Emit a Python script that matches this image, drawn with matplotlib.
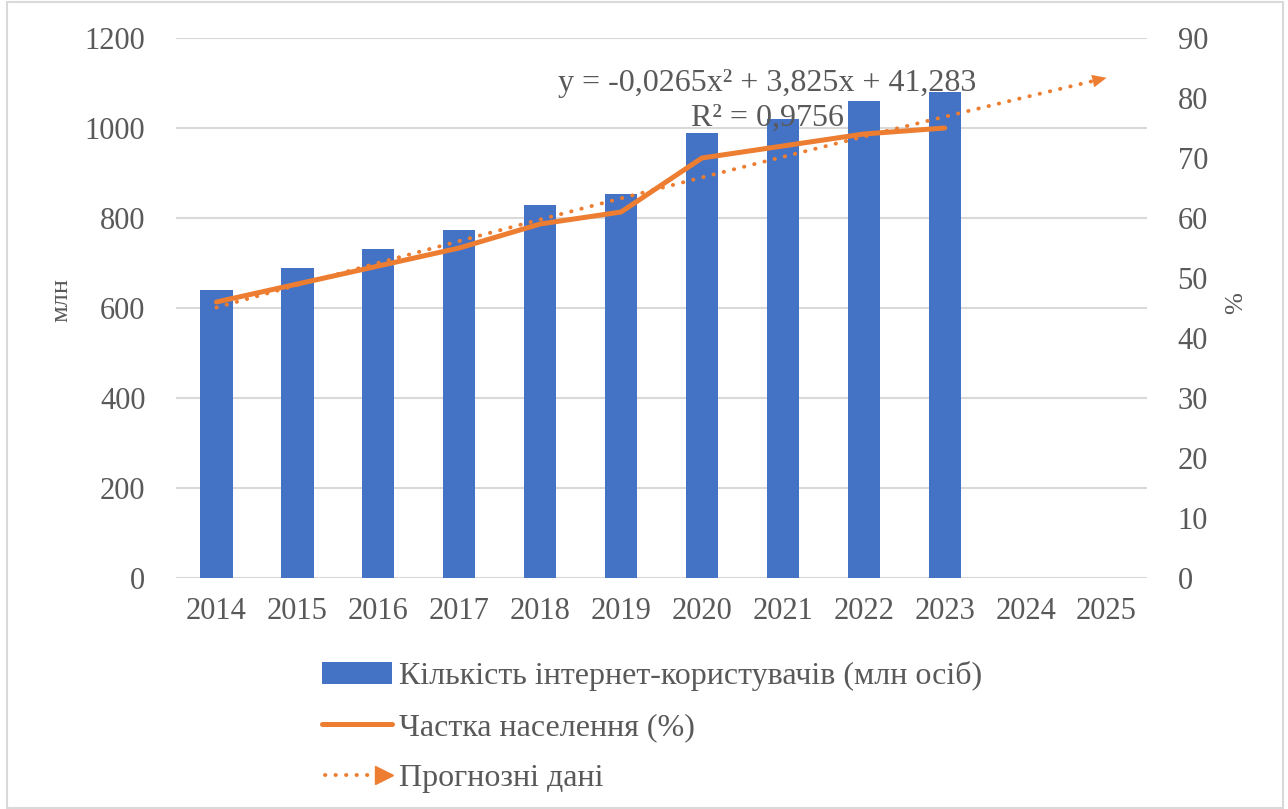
import matplotlib
matplotlib.use("Agg")
import matplotlib.pyplot as plt
import numpy as np
from matplotlib.lines import Line2D
from matplotlib.patches import Rectangle
from matplotlib.legend_handler import HandlerBase

plt.rcParams['font.family'] = ['Liberation Serif', 'DejaVu Serif']

# data
years = ['2014', '2015', '2016', '2017', '2018', '2019', '2020', '2021',
         '2022', '2023', '2024', '2025']
users = [641, 688, 732, 773, 830, 854, 990, 1021, 1061, 1080]
share = [46, 49, 52, 55, 59, 61, 70, 72, 74, 75]
# coefficients of the trendline shown on the chart (a, b, c for x = 1..12)
trend_coef = [-0.0265, 3.825, 41.283]
eq_text = 'y = -0,0265x² + 3,825x + 41,283'
r2_text = 'R² = 0,9756'

BLUE = '#4472C4'
ORANGE = '#ED7D31'
GREY = '#595959'
GRID = '#D9D9D9'
DOTS = (0, (0.1, 2.6))


class ArrowHandler(HandlerBase):
    def create_artists(self, legend, orig_handle, xdescent, ydescent,
                       width, height, fontsize, trans):
        y = height / 2 - ydescent
        x0 = -xdescent
        x1 = width - xdescent
        dots = Line2D([x0 + 2, x1 - 10], [y, y], color=ORANGE, lw=2.8,
                      linestyle=DOTS, dash_capstyle='round',
                      transform=trans)
        head = Line2D([x1 - 6], [y], marker='>', markersize=13, color=ORANGE,
                      transform=trans)
        return [dots, head]


fig = plt.figure(figsize=(12.88, 8.09), dpi=100)
ax = fig.add_axes([176 / 1288, 1 - 578 / 809, 971 / 1288, 540 / 809])
ax2 = ax.twinx()

x = np.arange(len(years))
xb = x[:len(users)]
bars = ax.bar(xb, users, width=0.4, color=BLUE, zorder=2,
              label='Кількість інтернет-користувачів (млн осіб)')

ax.set_xlim(-0.5, len(years) - 0.5)
ax.set_ylim(0, 1200)
ax.set_yticks(np.arange(0, 1201, 200))
ax.set_xticks(x)
ax.set_xticklabels(years)
ax.grid(axis='y', color=GRID, lw=1.5, zorder=0)
ax.set_axisbelow(True)

ax2.set_ylim(0, 90)
ax2.set_yticks(np.arange(0, 91, 10))

line, = ax2.plot(xb, share, color=ORANGE, lw=3.6, solid_capstyle='round',
                 zorder=3, label='Частка населення (%)')

xt = x + 1
trend = np.polyval(trend_coef, xt)
ax2.plot(x, trend, color=ORANGE, lw=2.8, linestyle=DOTS,
         dash_capstyle='round', zorder=4)
ax2.annotate('', xy=(x[-1], trend[-1]),
             xytext=(x[-1] - 0.15, trend[-1] - 0.15 * (trend[-1] - trend[-2])),
             arrowprops=dict(arrowstyle='-|>,head_length=1.0,head_width=0.45',
                             color=ORANGE, lw=0.1, shrinkA=0, shrinkB=0),
             zorder=4)

for a in (ax, ax2):
    for s in a.spines.values():
        s.set_visible(False)
    a.tick_params(length=0, colors=GREY, labelsize=22)
ax.tick_params(axis='y', pad=22)
ax.tick_params(axis='x', pad=14)
ax2.tick_params(axis='y', pad=22)

ax.set_ylabel('млн', fontsize=19, color=GREY)
ax.yaxis.set_label_coords(-0.107, 0.515)
ax2.set_ylabel('%', fontsize=19, color=GREY)
ax2.yaxis.set_label_coords(1.080, 0.51)

ax.text(6.81, 1098, eq_text, ha='center', va='center', fontsize=23,
        color=GREY, zorder=5)
ax.text(6.81, 1022, r2_text, ha='center', va='center', fontsize=23,
        color=GREY, zorder=5)
ax.set_zorder(1)
ax2.set_zorder(2)
ax2.patch.set_visible(False)

trend_handle = Line2D([], [], color=ORANGE)
fig.legend([bars, line, trend_handle],
           ['Кількість інтернет-користувачів (млн осіб)', 'Частка населення (%)',
            'Прогнозні дані'],
           handler_map={trend_handle: ArrowHandler()},
           loc='upper left', bbox_to_anchor=(322 / 1288, 1 - 661 / 809),
           frameon=False, fontsize=23, labelcolor=GREY, handlelength=2.2,
           handletextpad=0.2, labelspacing=0.68, borderaxespad=0, borderpad=0)

fig.patches.append(Rectangle((7 / 1288, 1 / 809), 1276 / 1288, 806 / 809,
                             transform=fig.transFigure, fill=False,
                             edgecolor=GRID, lw=1.5))

fig.savefig('out.png', dpi=100)
